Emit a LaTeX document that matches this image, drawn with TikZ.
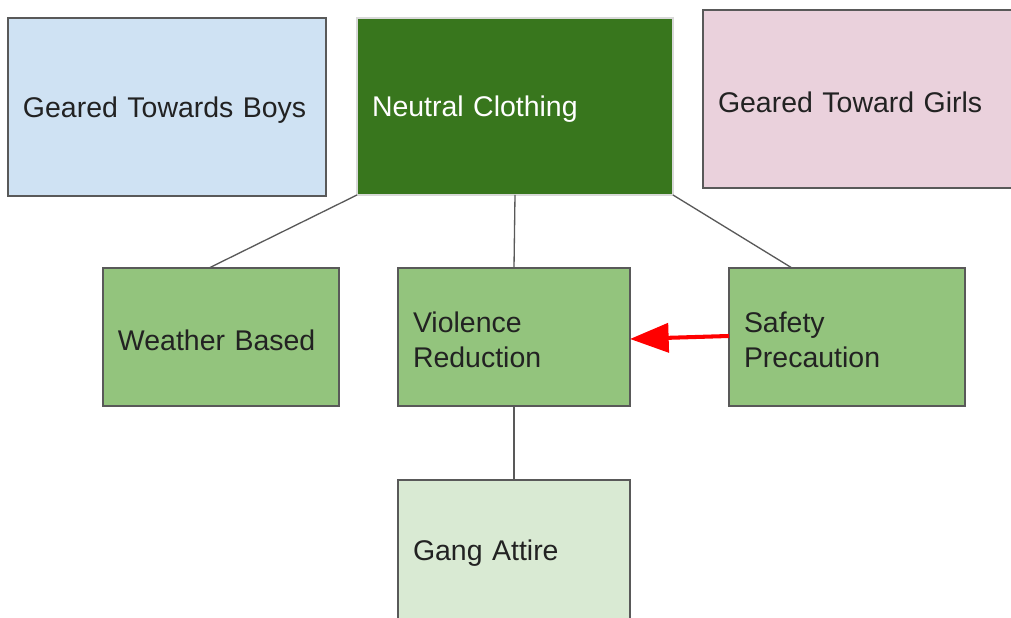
\documentclass[tikz,border=0pt]{standalone}
\usepackage{fontspec}
\setmainfont{Liberation Sans}
\usepackage{xcolor}
\usepackage{tikz}
\usetikzlibrary{arrows.meta}
\usetikzlibrary{positioning, shapes.misc}
\definecolor{boysblue}{HTML}{CFE2F3}
\definecolor{girlspink}{HTML}{EAD1DC}
\definecolor{neutralgreen}{HTML}{38761D}
\definecolor{midgreen}{HTML}{93C47D}
\definecolor{palegreen}{HTML}{D9EAD3}
\definecolor{edgegray}{HTML}{595959}
\definecolor{textdark}{HTML}{222222}
\tikzset{
box/.style = { rectangle, draw = edgegray, line width = 0.9pt, outer sep = 0pt, inner xsep = 0.3cm, inner ysep = 0pt, align = left, text height = 15.2pt, text = textdark, font = \fontsize{16.2}{19.6}\selectfont },
top box/.style = { box, minimum height = 3.56cm },
low box/.style = { box, minimum height = 2.76cm },
link/.style = { draw = edgegray, line width = 0.75pt },
push/.style = { draw = red, line width = 2.3pt, -{Triangle[length = 22pt, width = 16.5pt]} },
}
\begin{document}
\begin{tikzpicture}
    \useasboundingbox (0, 0) rectangle (20.22, 12.36);
    % top row
    \node[top box, fill = boysblue, text width = 5.76cm] (boys) at (3.34, 10.22) {Geared Towards Boys};
    \node[top box, fill = neutralgreen, draw = black!15, text = white, text width = 5.72cm, minimum height = 3.54cm] (neutral) at (10.30, 10.23) {Neutral Clothing};
    \node[top box, fill = girlspink, text width = 5.6cm] (girls) at (17.16, 10.38) {Geared Toward Girls};
    % middle row
    \node[low box, fill = midgreen, text width = 4.12cm] (weather) at (4.42, 5.62) {Weather Based};
    \node[low box, fill = midgreen, text width = 4.04cm] (violence) at (10.28, 5.62) {Violence\\Reduction};
    \node[low box, fill = midgreen, text width = 4.12cm] (safety) at (16.94, 5.62) {Safety\\Precaution};
    % bottom row
    \node[low box, fill = palegreen, text width = 4.04cm, minimum height = 2.8cm] (gang) at (10.28, 1.36) {Gang Attire};
    % connectors
    \path[link] (neutral.south west) -- ([xshift = -0.24cm]weather.north);
    \path[link] (neutral.south) -- (violence.north);
    \path[link] (neutral.south east) -- ([xshift = -1.1cm]safety.north);
    \path[link] (violence.south) -- (gang.north);
    \path[push] ([yshift = 0.02cm]safety.west) -- ([yshift = -0.04cm]violence.east);
\end{tikzpicture}
\end{document}
